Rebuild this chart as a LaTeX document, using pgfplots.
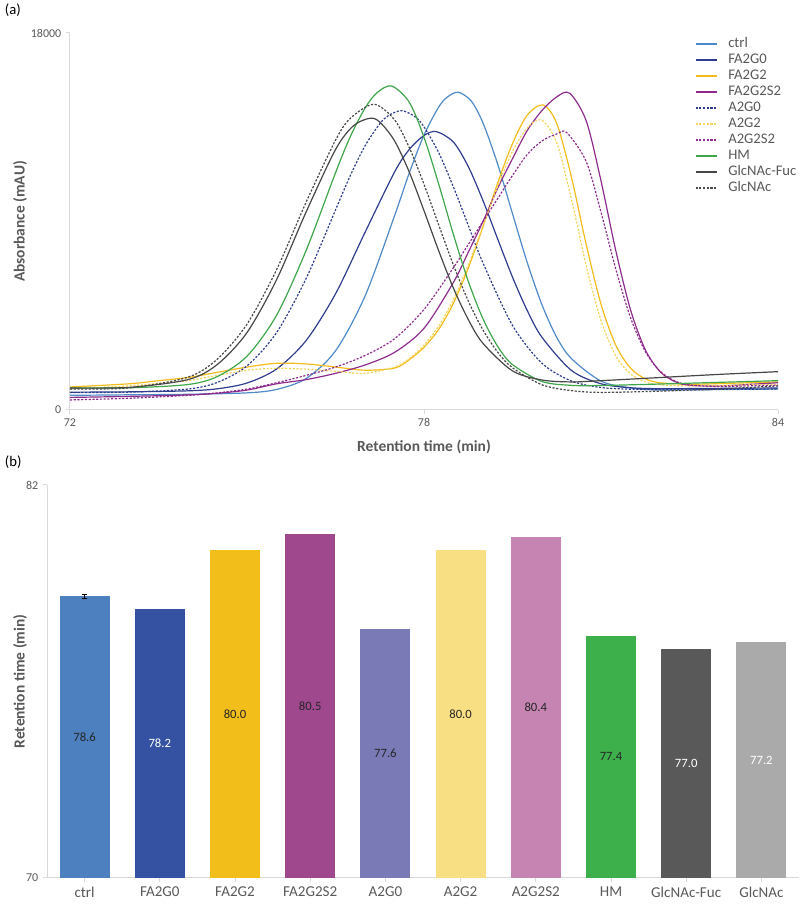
\documentclass[border=0pt]{standalone}
\usepackage{fontspec}
\setmainfont{Carlito}
\usepackage{pgfplots}
\pgfplotsset{compat=1.18}
\definecolor{axgrey}{HTML}{D9D9D9}
\definecolor{tgrey}{HTML}{595959}
\definecolor{cCtrl}{HTML}{4E8AC7}
\definecolor{cFA2G0}{HTML}{2F3D8E}
\definecolor{cFA2G2}{HTML}{F2BC1B}
\definecolor{cFA2G2S2}{HTML}{8E2C8E}
\definecolor{cA2G0}{HTML}{2F3D8E}
\definecolor{cA2G2}{HTML}{F5D45A}
\definecolor{cA2G2S2}{HTML}{8E2C8E}
\definecolor{cHM}{HTML}{3FA64B}
\definecolor{cFuc}{HTML}{474747}
\definecolor{cGlc}{HTML}{474747}
\definecolor{bCtrl}{HTML}{4C80BF}
\definecolor{bFA2G0}{HTML}{3552A2}
\definecolor{bFA2G2}{HTML}{F2BE1A}
\definecolor{bFA2G2S2}{HTML}{A0488E}
\definecolor{bA2G0}{HTML}{7A7AB6}
\definecolor{bA2G2}{HTML}{F8DF84}
\definecolor{bA2G2S2}{HTML}{C584B2}
\definecolor{bHM}{HTML}{3DB04B}
\definecolor{bFuc}{HTML}{595959}
\definecolor{bGlc}{HTML}{AAAAAA}
\newcommand{\fs}[1]{\fontsize{#1}{#1}\selectfont}
\pgfplotsset{
  solidc/.style={line width=0.9pt, smooth, tension=0.5},
  dotc/.style={line width=0.9pt, smooth, tension=0.5, dash pattern=on 1.6pt off 1.2pt},
  barc/.style={ybar, bar width=37.5pt, bar shift=0pt, draw=none, fill=#1,
    visualization depends on=rawy \as \rawy,
    nodes near coords={\pgfmathprintnumber[fixed,fixed zerofill,precision=1]{\pgfplotspointmeta}},
    every node near coord/.append style={font=\fs{9.5}, anchor=center, yshift={(70-\rawy)*12.281pt}}},
}
\begin{document}
\begin{tikzpicture}
\useasboundingbox (0pt,0pt) rectangle (600pt,680.25pt);
\node[anchor=north west, inner sep=0pt, font=\fs{11}] at (3.5pt,677.5pt) {(a)};
\node[anchor=north west, inner sep=0pt, font=\fs{11}] at (3.5pt,338.5pt) {(b)};
% ---------------- panel (a)
\begin{axis}[
  at={(52.5pt,372.75pt)}, anchor=south west, scale only axis,
  width=531pt, height=282.75pt,
  xmin=72, xmax=84, ymin=0, ymax=18000,
  axis x line*=bottom, axis y line*=left,
  axis line style={-, draw=axgrey, line width=0.75pt},
  xtick={72,78,84}, ytick={0,18000},
  tick align=outside, major tick length=3pt,
  tick style={draw=axgrey, line width=0.75pt},
  scaled y ticks=false,
  /pgf/number format/assume math mode=true,
  /pgf/number format/1000 sep={},
  ticklabel style={font=\fs{9}, text=tgrey},
  xlabel={Retention time (min)},
  xlabel style={at={(axis description cs:0.5,-0.098)}, anchor=center, font=\fs{11.6}\bfseries, text=tgrey},
  ylabel={Absorbance (mAU)},
  ylabel style={at={(axis description cs:-0.0706,0.5)}, anchor=center, font=\fs{11.6}\bfseries, text=tgrey},
  legend style={draw=none, fill=none, at={(0.876,1.0)}, anchor=north west,
    font=\fs{11}, text=tgrey, row sep=0pt, column sep=6pt,
    nodes={inner ysep=1.5pt, text height=7.5pt, text depth=1.5pt}},
  legend cell align=left,
  legend image code/.code={\draw[#1, line width=1.6pt] (0pt,0pt) -- (15.75pt,0pt);},
]
\addplot[cCtrl, solidc] coordinates {(72,700) (73,725) (74,750) (75,818) (75.5,981) (76,1500) (76.5,2822) (77,5435) (77.5,9267) (77.75,11314) (78,13125) (78.25,14471) (78.4,14951) (78.58,15170) (78.8,14754) (79,13705) (79.25,11726) (79.5,9372) (79.75,7039) (80,5020) (80.25,3466) (80.5,2450) (81,1380) (81.5,1050) (82,960) (83,975) (84,1000)};
\addlegendentry{ctrl}
\addplot[cFA2G0, solidc] coordinates {(72,850) (73,867) (74,915) (74.5,1013) (75,1288) (75.5,1954) (76,3310) (76.5,5545) (77,8477) (77.5,11358) (77.75,12437) (78,13106) (78.21,13290) (78.5,12787) (78.75,11625) (79,9998) (79.25,8155) (79.5,6342) (79.75,4748) (80,3469) (80.5,1888) (81,1252) (81.5,1063) (82,1017) (83,1033) (84,1050)};
\addlegendentry{FA2G0}
\addplot[cFA2G2, solidc] coordinates {(72,1100) (73,1250) (73.5,1400) (74,1550) (74.5,1800) (75,2050) (75.5,2230) (76,2200) (76.5,2050) (77,1900) (77.5,2000) (77.75,2400) (78,2996) (78.25,3855) (78.5,5109) (78.75,6772) (79,8753) (79.25,10846) (79.5,12722) (79.75,14075) (80.02,14564) (80.25,13678) (80.5,11106) (80.75,7890) (81,5056) (81.25,3096) (81.5,1999) (81.75,1490) (82,1301) (82.5,1230) (83,1260) (83.5,1300) (84,1340)};
\addlegendentry{FA2G2}
\addplot[cFA2G2S2, solidc] coordinates {(72,600) (73,650) (74,720) (74.5,800) (75,950) (75.5,1250) (76,1450) (76.5,1750) (77,2150) (77.5,2750) (78,3900) (78.5,6100) (78.75,7530) (79,9000) (79.25,10595) (79.5,12000) (79.75,13344) (80,14300) (80.25,14950) (80.47,15122) (80.75,13802) (81,10942) (81.25,7619) (81.5,4787) (81.75,2880) (82,1835) (82.25,1359) (82.5,1178) (83,1150) (83.5,1220) (84,1300)};
\addlegendentry{FA2G2S2}
\addplot[cA2G0, dotc] coordinates {(72,830) (73,852) (74,1000) (74.5,1320) (75,2107) (75.5,3690) (76,6266) (76.5,9552) (76.75,11188) (77,12610) (77.25,13666) (77.4,14062) (77.62,14292) (77.85,14002) (78,13521) (78.25,12280) (78.5,10637) (78.75,8821) (79,7017) (79.5,4040) (80,2231) (80.5,1383) (81,1075) (81.5,993) (82,970) (83,985) (84,1000)};
\addlegendentry{A2G0}
\addplot[cA2G2, dotc] coordinates {(72,1000) (73,1150) (73.5,1270) (74,1400) (74.5,1650) (75,1900) (75.5,1990) (76,1950) (76.5,1850) (77,1750) (77.5,2050) (77.75,2450) (78,3099) (78.25,4013) (78.5,5283) (78.75,6912) (79,8780) (79.25,10680) (79.5,12344) (79.75,13470) (79.99,13848) (80.25,12762) (80.5,10047) (80.75,6887) (81,4278) (81.25,2592) (81.5,1723) (81.75,1351) (82,1200) (82.5,1150) (83,1170) (83.5,1200) (84,1220)};
\addlegendentry{A2G2}
\addplot[cA2G2S2, dotc] coordinates {(72,480) (73,560) (74,700) (74.5,820) (75,1000) (75.5,1300) (76,1650) (76.5,2050) (77,2600) (77.5,3400) (78,4800) (78.5,6800) (78.75,7900) (79,9000) (79.25,10100) (79.5,11200) (79.75,12200) (80,12850) (80.25,13180) (80.42,13243) (80.75,11856) (81,9447) (81.25,6733) (81.5,4414) (81.75,2794) (82,1853) (82.25,1391) (82.5,1197) (83,1120) (83.5,1150) (84,1180)};
\addlegendentry{A2G2S2}
\addplot[cHM, solidc] coordinates {(72,1050) (73,1059) (74,1217) (74.5,1602) (75,2569) (75.5,4516) (76,7603) (76.5,11325) (76.75,13045) (77,14409) (77.2,15138) (77.45,15471) (77.75,14695) (78,13022) (78.25,10781) (78.5,8366) (78.75,6148) (79,4351) (79.25,3031) (79.5,2166) (80,1360) (80.5,1176) (81,1170) (82,1240) (83,1320) (84,1400)};
\addlegendentry{HM}
\addplot[cFuc, solidc] coordinates {(72,1050) (73,1079) (74,1452) (74.5,2181) (75,3697) (75.5,6213) (76,9441) (76.5,12434) (76.8,13560) (77.08,13928) (77.25,13750) (77.5,12855) (77.75,11362) (78,9517) (78.25,7593) (78.5,5810) (78.75,4322) (79,3180) (79.5,1867) (80,1431) (80.5,1340) (81,1400) (82,1550) (83,1700) (84,1830)};
\addlegendentry{GlcNAc-Fuc}
\addplot[cGlc, dotc] coordinates {(72,1000) (73,1055) (74,1568) (74.5,2437) (75,4100) (75.5,6692) (76,9908) (76.5,12880) (76.75,13920) (77.15,14597) (77.5,13856) (77.75,12531) (78,10780) (78.25,8831) (78.5,6911) (78.75,5207) (79,3820) (79.25,2756) (79.5,2015) (80,1203) (80.5,924) (81,840) (82,900) (83,1000) (84,1150)};
\addlegendentry{GlcNAc}
\end{axis}
% ---------------- panel (b)
\begin{axis}[
  at={(35.25pt,21.75pt)}, anchor=south west, scale only axis,
  width=564pt, height=294.75pt,
  xmin=-0.5, xmax=9.5, ymin=70, ymax=82,
  axis x line*=bottom, axis y line*=left,
  axis line style={-, draw=axgrey, line width=0.75pt},
  xtick={0,...,9},
  xticklabels={ctrl,FA2G0,FA2G2,FA2G2S2,A2G0,A2G2,A2G2S2,HM,GlcNAc-Fuc,GlcNAc},
  ytick={70,82},
  tick align=outside, major tick length=3pt,
  tick style={draw=axgrey, line width=0.75pt},
  /pgf/number format/assume math mode=true,
  xticklabel style={font=\fs{11.3}, text=tgrey},
  yticklabel style={font=\fs{9}, text=tgrey},
  ylabel={Retention time (min)},
  ylabel style={at={(axis description cs:-0.0359,0.5)}, anchor=center, font=\fs{11.6}\bfseries, text=tgrey},
  clip=false,
]
\addplot[barc=bCtrl, every node near coord/.append style={text=black!85}, error bars/.cd, y dir=both, y explicit, error bar style={black, line width=0.6pt}, error mark options={rotate=90, mark size=2pt, black}] coordinates {(0,78.6) +- (0,0.06)};
\addplot[barc=bFA2G0, every node near coord/.append style={text=white}] coordinates {(1,78.2)};
\addplot[barc=bFA2G2, every node near coord/.append style={text=black!85}] coordinates {(2,80.0)};
\addplot[barc=bFA2G2S2, every node near coord/.append style={text=black!85}] coordinates {(3,80.5)};
\addplot[barc=bA2G0, every node near coord/.append style={text=black!85}] coordinates {(4,77.6)};
\addplot[barc=bA2G2, every node near coord/.append style={text=black!85}] coordinates {(5,80.0)};
\addplot[barc=bA2G2S2, every node near coord/.append style={text=black!85}] coordinates {(6,80.4)};
\addplot[barc=bHM, every node near coord/.append style={text=black!85}] coordinates {(7,77.4)};
\addplot[barc=bFuc, every node near coord/.append style={text=white}] coordinates {(8,77.0)};
\addplot[barc=bGlc, every node near coord/.append style={text=white}] coordinates {(9,77.2)};
\end{axis}
\end{tikzpicture}
\end{document}
